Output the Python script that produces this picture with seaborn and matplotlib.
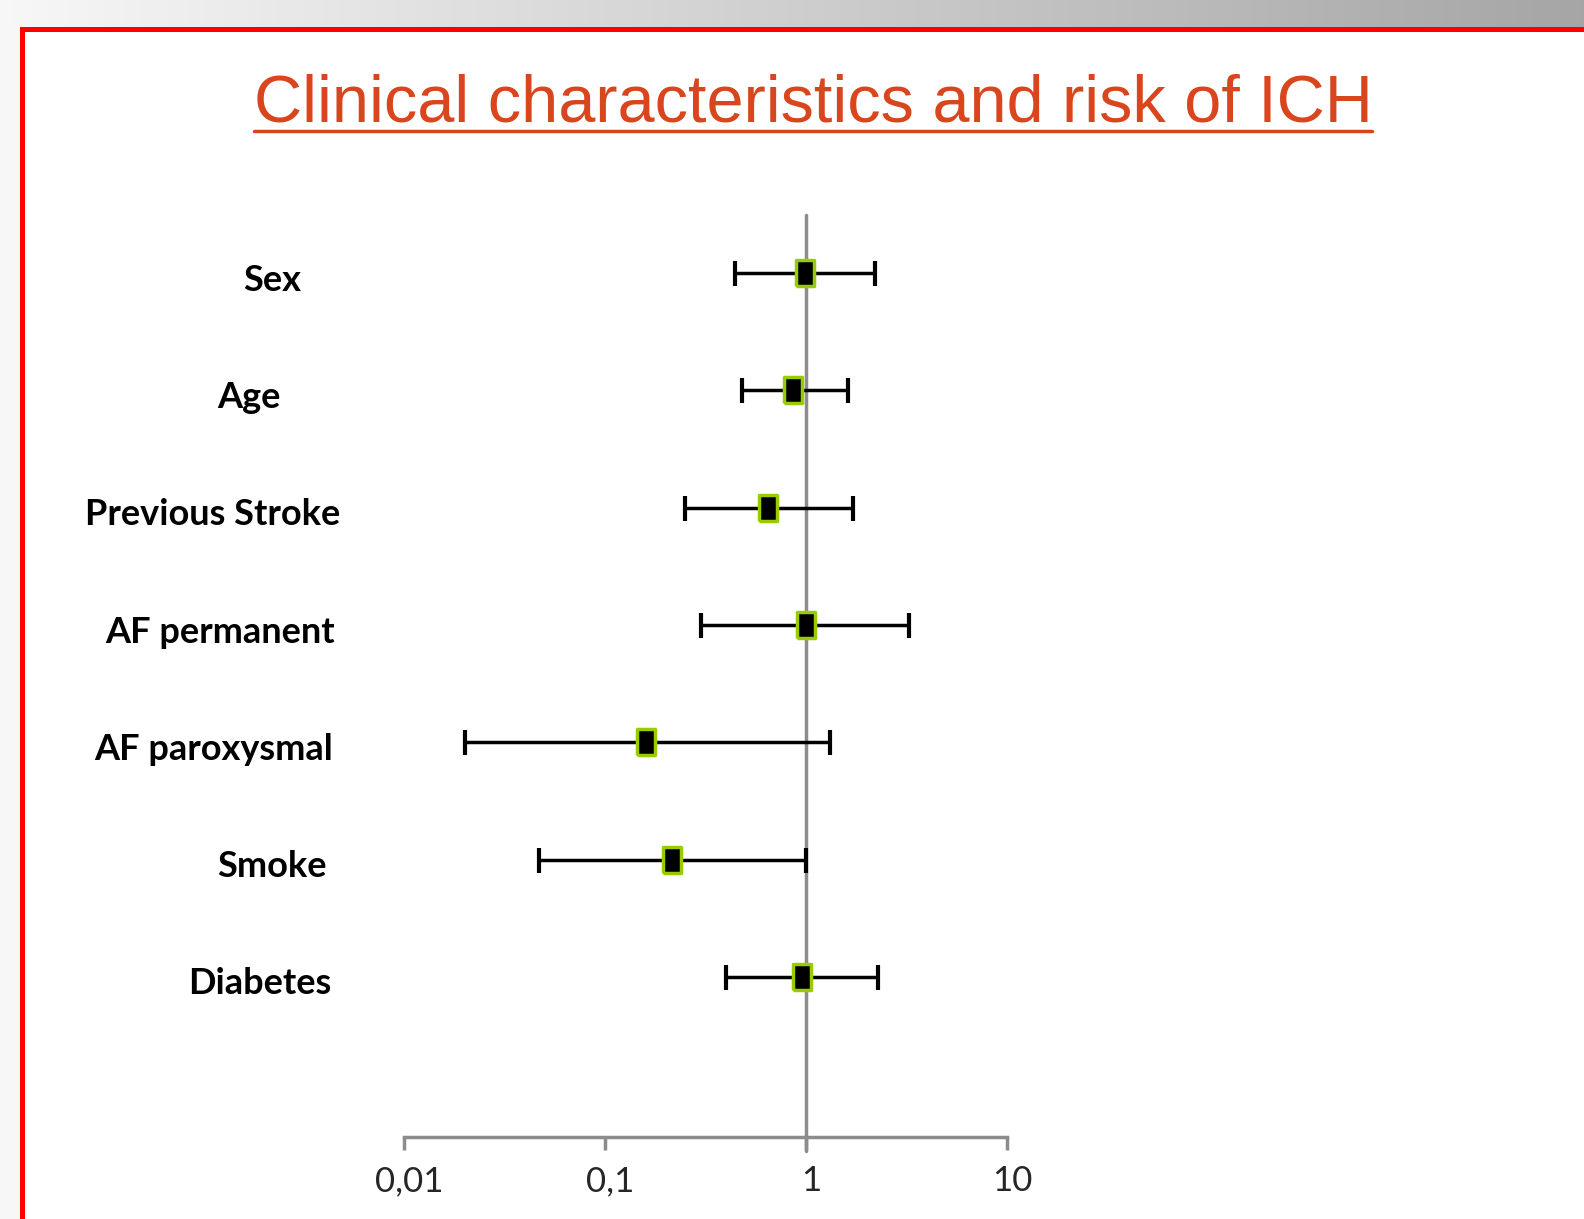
import numpy as np
import seaborn as sns
import matplotlib.pyplot as plt
from matplotlib.lines import Line2D
from matplotlib.patches import Rectangle
import matplotlib.transforms as mtransforms

factors = ["Sex", "Age", "Previous Stroke", "AF permanent", "AF paroxysmal", "Smoke", "Diabetes"]
odds_ratio = [0.99, 0.86, 0.65, 1.00, 0.16, 0.215, 0.955]
ci_low = [0.445, 0.48, 0.25, 0.30, 0.020, 0.047, 0.40]
ci_high = [2.20, 1.61, 1.72, 3.26, 1.32, 1.00, 2.27]
tick_values = [0.01, 0.1, 1, 10]
tick_labels = ["0,01", "0,1", "1", "10"]

# right edge of each row label, in figure pixels (labels sit a bit ragged on the slide)
label_right = [301, 281, 340, 335, 333, 327, 331]

W, H = 1584, 1219
sns.set_style("white")
plt.rcParams['font.family'] = ['Lato', 'DejaVu Sans']

fig = plt.figure(figsize=(W / 100, H / 100), dpi=100)

# slide background: grey gradient band on top, light strip on the left
bg = fig.add_axes([0, 0, 1, 1], zorder=-5)
bg.set_xlim(0, W)
bg.set_ylim(H, 0)
bg.axis("off")
grad = np.linspace(0.97, 0.65, 256)[None, :]
bg.imshow(np.dstack([grad, grad, grad]), extent=(0, W, 27, 0), aspect="auto")
bg.add_patch(Rectangle((0, 27), 20, H, color="#f7f7f7", lw=0))
bg.add_patch(Rectangle((20, 27), W, H, color="white", lw=0))
bg.add_patch(Rectangle((20, 27), W, 5, color="#ff0000", lw=0))
bg.add_patch(Rectangle((20, 27), 5, H, color="#ff0000", lw=0))

title = fig.text(813 / W, 1 - 105 / H, "Clinical characteristics and risk of ICH",
                 ha="center", va="center", fontsize=48, color="#d9461e",
                 family=["Liberation Sans", "DejaVu Sans"])

ax = fig.add_axes([404 / W, 82 / H, 603 / W, 922 / H])
y = np.arange(len(factors))
ax.set_xscale("log")
ax.set_xlim(0.01, 10)
ax.set_ylim(len(factors) - 1 + 1.364, -0.494)

ax.axvline(1, color="#8c8c8c", lw=2.5, zorder=1, ymin=-0.015, clip_on=False)
lo = np.array(odds_ratio) - np.array(ci_low)
hi = np.array(ci_high) - np.array(odds_ratio)
ax.errorbar(odds_ratio, y, xerr=[lo, hi], fmt="none", ecolor="black",
            elinewidth=2.5, capsize=9, capthick=3, zorder=2)

rect = [(-0.7, -1), (0.7, -1), (0.7, 1), (-0.7, 1), (-0.7, -1)]
sns.scatterplot(x=odds_ratio, y=y, ax=ax, marker=rect, s=330, color="black",
                edgecolor="#99cc00", linewidth=2.5, zorder=3)

for s in ["top", "right", "left"]:
    ax.spines[s].set_visible(False)
ax.spines["bottom"].set_color("#8c8c8c")
ax.spines["bottom"].set_linewidth(2.5)
ax.set_xticks(tick_values)
ax.set_xticklabels(tick_labels)
ax.xaxis.set_minor_locator(plt.NullLocator())
ax.tick_params(axis="x", which="major", direction="out", length=9, width=2.5,
               color="#8c8c8c", labelsize=25, pad=11, bottom=True)
shift = mtransforms.ScaledTranslation(5 / 100, 0, fig.dpi_scale_trans)
for lab in ax.get_xticklabels():
    lab.set_transform(lab.get_transform() + shift)
ax.set_yticks([])
ax.grid(False)

trans = mtransforms.blended_transform_factory(fig.transFigure, ax.transData)
for name, yy, xr in zip(factors, y, label_right):
    ax.text(xr / W, yy + 0.06, name, transform=trans, ha="right", va="center",
            fontsize=26, fontweight="bold", color="black", clip_on=False)

# underline the title
fig.canvas.draw()
bb = title.get_window_extent()
fig.add_artist(Line2D([bb.x0 / W, bb.x1 / W], [1 - 131 / H, 1 - 131 / H],
                      transform=fig.transFigure, color="#d9461e", lw=2.5))

fig.savefig("out.png", dpi=100)
